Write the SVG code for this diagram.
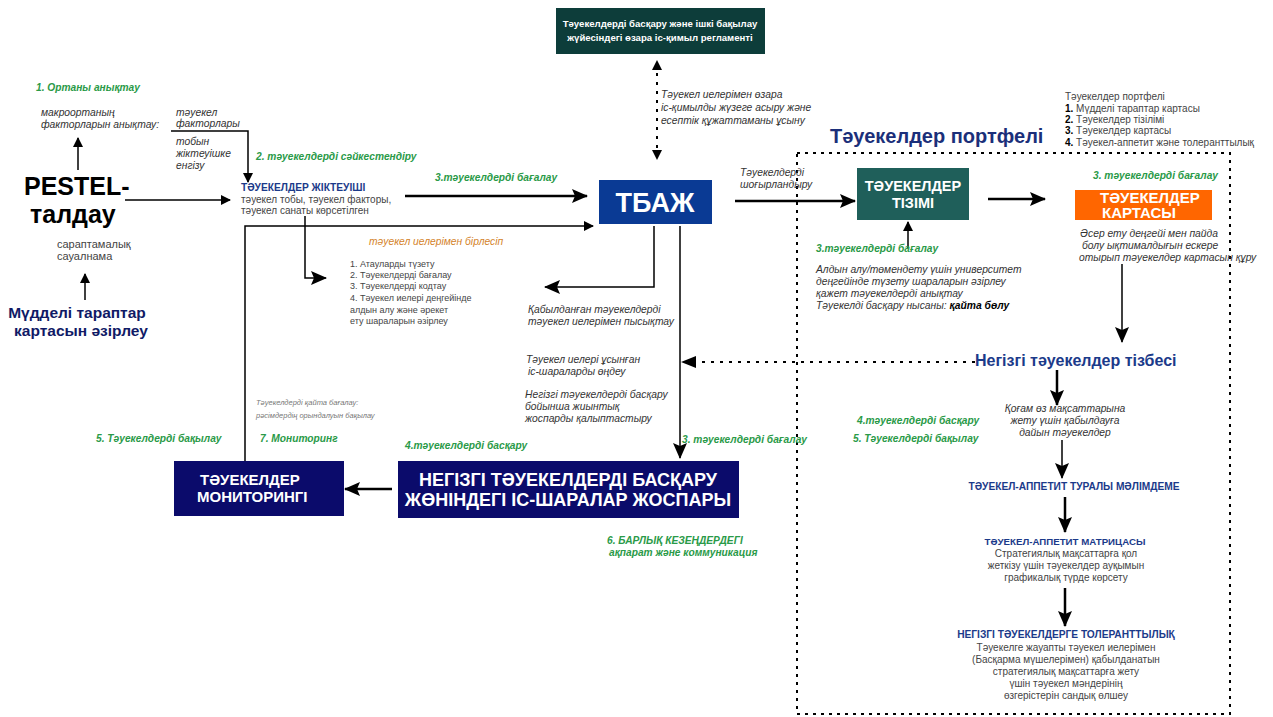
<svg xmlns="http://www.w3.org/2000/svg" width="1273" height="717" viewBox="0 0 1273 717">
<defs>
<marker id="ah" markerWidth="10" markerHeight="10" refX="9" refY="5" orient="auto" markerUnits="userSpaceOnUse">
<path d="M0,0 L10,5 L0,10 Z" fill="#000"/>
</marker>
<marker id="ahb" markerWidth="16" markerHeight="14" refX="15" refY="7" orient="auto" markerUnits="userSpaceOnUse">
<path d="M0,0 L16,7 L0,14 L3,7 Z" fill="#000"/>
</marker>
<style>
text{font-family:"Liberation Sans",Arial,sans-serif;}
.it{font-style:italic;font-size:10.3px;fill:#333;}
.gr{font-style:italic;font-weight:bold;font-size:10.2px;fill:#2a9a48;}
.n{font-size:10px;fill:#444;}
.ls{font-size:9px;fill:#444;}
.hb{font-weight:bold;font-size:10.2px;fill:#1b3a8a;}
.wb{font-weight:bold;fill:#fff;}
.c{text-anchor:middle;}
.ln{stroke:#000;stroke-width:1.5;fill:none;}
.lt{stroke:#000;stroke-width:2.5;fill:none;}
.dot{stroke:#000;stroke-width:2;fill:none;stroke-dasharray:3,6;}
</style>
</defs>
<rect width="1273" height="717" fill="#fff"/>

<g id="connectors">
<line x1="657" y1="64" x2="657" y2="156" class="dot" stroke-dasharray="2,4"/>
<path d="M652,70 L657,60 L662,70 Z"/>
<path d="M652,150 L657,160 L662,150 Z"/>
<line x1="735" y1="201" x2="855" y2="201" class="lt" marker-end="url(#ahb)"/>
<line x1="988" y1="199" x2="1045" y2="199" class="lt" marker-end="url(#ahb)"/>
<line x1="1122" y1="264" x2="1122" y2="342" class="ln" stroke-width="2" marker-end="url(#ahb)"/>
<line x1="975" y1="362" x2="690" y2="362" class="dot"/>
<path d="M696,356 L681,362 L696,368 Z"/>
<line x1="1057" y1="370" x2="1057" y2="405" class="lt" marker-end="url(#ahb)"/>
<line x1="1062" y1="440" x2="1062" y2="478" class="ln" stroke-width="2" marker-end="url(#ahb)"/>
<line x1="1065" y1="497" x2="1065" y2="532" class="lt" marker-end="url(#ahb)"/>
<line x1="1065" y1="588" x2="1065" y2="626" class="lt" marker-end="url(#ahb)"/>
<line x1="908" y1="248" x2="908" y2="222" class="ln" stroke-width="2" marker-end="url(#ah)"/>
<line x1="78" y1="170" x2="78" y2="138" class="ln" stroke-width="2" marker-end="url(#ah)"/>
<line x1="85" y1="300" x2="85" y2="274" class="ln" stroke-width="2" marker-end="url(#ah)"/>
<polyline points="171,131 248,131 248,182" class="ln" marker-end="url(#ah)"/>
<line x1="125" y1="200" x2="230" y2="200" class="ln" stroke-width="1" marker-end="url(#ah)"/>
<line x1="405" y1="196" x2="587" y2="196" class="lt" marker-end="url(#ahb)"/>
<polyline points="245,461 245,226 593,226" class="ln" marker-end="url(#ah)"/>
<polyline points="305,216 305,278 326,278" class="ln" marker-end="url(#ahb)"/>
<polyline points="654,226 654,287 545,287" class="ln" marker-end="url(#ahb)"/>
<line x1="680" y1="226" x2="680" y2="458" class="ln" marker-end="url(#ahb)"/>
<line x1="392" y1="489" x2="345" y2="489" class="lt" marker-end="url(#ahb)"/>
<rect x="797" y="153" width="433" height="561" fill="none" stroke="#000" stroke-width="2" stroke-dasharray="3,5"/>
</g>

<g id="reglament">
<rect x="556" y="8" width="209" height="46" fill="#0d3d3a"/>
<text x="660" y="27" class="c" font-size="9.6" font-weight="bold" fill="#fff">Тәуекелдерді басқару және ішкі бақылау</text>
<text x="660" y="41" class="c" font-size="9.6" font-weight="bold" fill="#fff">жүйесіндегі өзара іс-қимыл регламенті</text>
</g>

<g id="tbazh">
<rect x="599" y="180" width="113" height="44" fill="#0a3a94"/>
<text x="655" y="212" class="c wb" font-size="27">ТБАЖ</text>
</g>

<g id="tizimi">
<rect x="857" y="168" width="112" height="52" fill="#1f5f5a"/>
<text x="913" y="191" class="c wb" font-size="14.5">ТӘУЕКЕЛДЕР</text>
<text x="913" y="208" class="c wb" font-size="14.5">ТІЗІМІ</text>
</g>

<g id="kartasy">
<rect x="1075" y="190" width="137" height="30" fill="#ff6600"/>
<text x="1100" y="203" class="wb" font-size="15">ТӘУЕКЕЛДЕР</text>
<text x="1102" y="218" class="wb" font-size="15">КАРТАСЫ</text>
</g>

<g id="monitoring">
<rect x="174" y="461" width="170" height="55" fill="#0b0b6b"/>
<text x="200" y="485" class="wb" font-size="15">ТӘУЕКЕЛДЕР</text>
<text x="197" y="502" class="wb" font-size="15">МОНИТОРИНГІ</text>
</g>

<g id="plan">
<rect x="398" y="461" width="341" height="57" fill="#0b0b6b"/>
<text x="568" y="486" class="c wb" font-size="18">НЕГІЗГІ ТӘУЕКЕЛДЕРДІ БАСҚАРУ</text>
<text x="568" y="506" class="c wb" font-size="18">ЖӨНІНДЕГІ ІС-ШАРАЛАР ЖОСПАРЫ</text>
</g>

<g id="pestel">
<text x="24" y="195" font-size="25" font-weight="bold" fill="#000">PESTEL-</text>
<text x="30" y="223" font-size="25" font-weight="bold" fill="#000">талдау</text>
</g>

<g id="stakeholders">
<text x="77" y="318" class="c" font-size="15.5" font-weight="bold" fill="#101a66">Мүдделі тараптар</text>
<text x="81" y="336" class="c" font-size="15.5" font-weight="bold" fill="#101a66">картасын әзірлеу</text>
</g>

<g id="labels-left">
<text x="36" y="91" class="gr">1. Ортаны анықтау</text>
<text x="41" y="116" class="it">макроортаның</text>
<text x="41" y="128" class="it">факторларын анықтау:</text>
<text x="176" y="116" class="it">тәуекел</text>
<text x="176" y="127" class="it">факторлары</text>
<text x="176" y="145" class="it">тобын</text>
<text x="176" y="157" class="it">жіктеуішке</text>
<text x="176" y="169" class="it">енгізу</text>
<text x="57" y="248" class="n" style="font-size:11px">сараптамалық</text>
<text x="57" y="260" class="n" style="font-size:11px">сауалнама</text>
<text x="256" y="160" class="gr">2. тәуекелдерді сәйкестендіру</text>
</g>

<g id="zhikteuish">
<text x="241" y="191" class="hb">ТӘУЕКЕЛДЕР ЖІКТЕУІШІ</text>
<text x="241" y="203" class="n">тәуекел тобы, тәуекел факторы,</text>
<text x="241" y="214" class="n">тәуекел санаты көрсетілген</text>
</g>

<g id="labels-mid">
<text x="435" y="181" class="gr">3.тәуекелдерді бағалау</text>
<text x="369" y="245" class="it" style="fill:#d4832a">тәуекел иелерімен бірлесіп</text>
<text x="350" y="267" class="ls">1. Атауларды түзету</text>
<text x="350" y="278" class="ls">2. Тәуекелдерді бағалау</text>
<text x="350" y="289" class="ls">3. Тәуекелдерді кодтау</text>
<text x="350" y="301" class="ls">4. Тәуекел иелері деңгейінде</text>
<text x="350" y="313" class="ls">алдын алу және әрекет</text>
<text x="350" y="324" class="ls">ету шараларын әзірлеу</text>
<text x="528" y="313" class="it">Қабылданған тәуекелдерді</text>
<text x="528" y="325" class="it">тәуекел иелерімен пысықтау</text>
<text x="526" y="363" class="it">Тәуекел иелері ұсынған</text>
<text x="528" y="375" class="it">іс-шараларды өңдеу</text>
<text x="525" y="398" class="it">Негізгі тәуекелдерді басқару</text>
<text x="525" y="410" class="it">бойынша жиынтық</text>
<text x="525" y="422" class="it">жоспарды қалыптастыру</text>
<text x="682" y="443" class="gr">3. тәуекелдерді бағалау</text>
<text x="661" y="98" class="it">Тәуекел иелерімен өзара</text>
<text x="661" y="111" class="it">іс-қимылды жүзеге асыру және</text>
<text x="661" y="124" class="it">есептік құжаттаманы ұсыну</text>
<text x="740" y="176" class="it">Тәуекелдерді</text>
<text x="740" y="188" class="it">шоғырландыру</text>
</g>

<g id="labels-bottom">
<text x="96" y="442" class="gr">5. Тәуекелдерді бақылау</text>
<text x="260" y="442" class="gr">7. Мониторинг</text>
<text x="405" y="449" class="gr">4.тәуекелдерді басқару</text>
<text x="256" y="405" class="it" style="font-size:7.5px;fill:#777">Тәуекелдерді қайта бағалау:</text>
<text x="256" y="418" class="it" style="font-size:7.5px;fill:#777">рәсімдердің орындалуын бақылау</text>
<text x="607" y="544" class="gr">6. БАРЛЫҚ КЕЗЕҢДЕРДЕГІ</text>
<text x="609" y="556" class="gr">ақпарат және коммуникация</text>
</g>

<g id="portfolio">
<text x="830" y="143" font-size="20" font-weight="bold" fill="#1b2f7a">Тәуекелдер портфелі</text>
<text x="1065" y="100" class="n">Тәуекелдер портфелі</text>
<text x="1065" y="112" class="n"><tspan font-weight="bold" fill="#000">1.</tspan> Мүдделі тараптар картасы</text>
<text x="1065" y="123" class="n"><tspan font-weight="bold" fill="#000">2.</tspan> Тәуекелдер тізілімі</text>
<text x="1065" y="134" class="n"><tspan font-weight="bold" fill="#000">3.</tspan> Тәуекелдер картасы</text>
<text x="1065" y="146" class="n"><tspan font-weight="bold" fill="#000">4.</tspan> Тәуекел-аппетит және толеранттылық</text>
<text x="1093" y="179" class="gr">3. тәуекелдерді бағалау</text>
<text x="1080" y="237" class="it">Әсер ету деңгейі мен пайда</text>
<text x="1082" y="249" class="it">болу ықтималдығын ескере</text>
<text x="1079" y="261" class="it">отырып тәуекелдер картасын құру</text>
<text x="816" y="252" class="gr">3.тәуекелдерді бағалау</text>
<text x="816" y="273" class="it">Алдын алу/төмендету үшін университет</text>
<text x="816" y="285" class="it">деңгейінде түзету шараларын әзірлеу</text>
<text x="816" y="297" class="it">қажет тәуекелдерді анықтау</text>
<text x="816" y="309" class="it">Тәуекелді басқару нысаны: <tspan font-weight="bold" fill="#000">қайта бөлу</tspan></text>
<text x="975" y="366" font-size="16" font-weight="bold" fill="#1b3a8a">Негізгі тәуекелдер тізбесі</text>
<text x="857" y="424" class="gr">4.тәуекелдерді басқару</text>
<text x="853" y="442" class="gr">5. Тәуекелдерді бақылау</text>
<text x="1065" y="412" class="c it">Қоғам өз мақсаттарына</text>
<text x="1065" y="424" class="c it">жету үшін қабылдауға</text>
<text x="1065" y="436" class="c it">дайын тәуекелдер</text>
<text x="1074" y="490" class="c hb">ТӘУЕКЕЛ-АППЕТИТ ТУРАЛЫ МӘЛІМДЕМЕ</text>
<text x="1065" y="545" class="c hb" style="font-size:9.7px">ТӘУЕКЕЛ-АППЕТИТ МАТРИЦАСЫ</text>
<text x="1066" y="557" class="c n">Стратегиялық мақсаттарға қол</text>
<text x="1066" y="569" class="c n">жеткізу үшін тәуекелдер ауқымын</text>
<text x="1066" y="581" class="c n">графикалық түрде көрсету</text>
<text x="1066" y="638" class="c hb">НЕГІЗГІ ТӘУЕКЕЛДЕРГЕ ТОЛЕРАНТТЫЛЫҚ</text>
<text x="1066" y="651" class="c n">Тәуекелге жауапты тәуекел иелерімен</text>
<text x="1066" y="663" class="c n">(Басқарма мүшелерімен) қабылданатын</text>
<text x="1066" y="675" class="c n">стратегиялық мақсаттарға жету</text>
<text x="1066" y="687" class="c n">үшін тәуекел мәндерінің</text>
<text x="1066" y="699" class="c n">өзгерістерін сандық өлшеу</text>
</g>
</svg>
